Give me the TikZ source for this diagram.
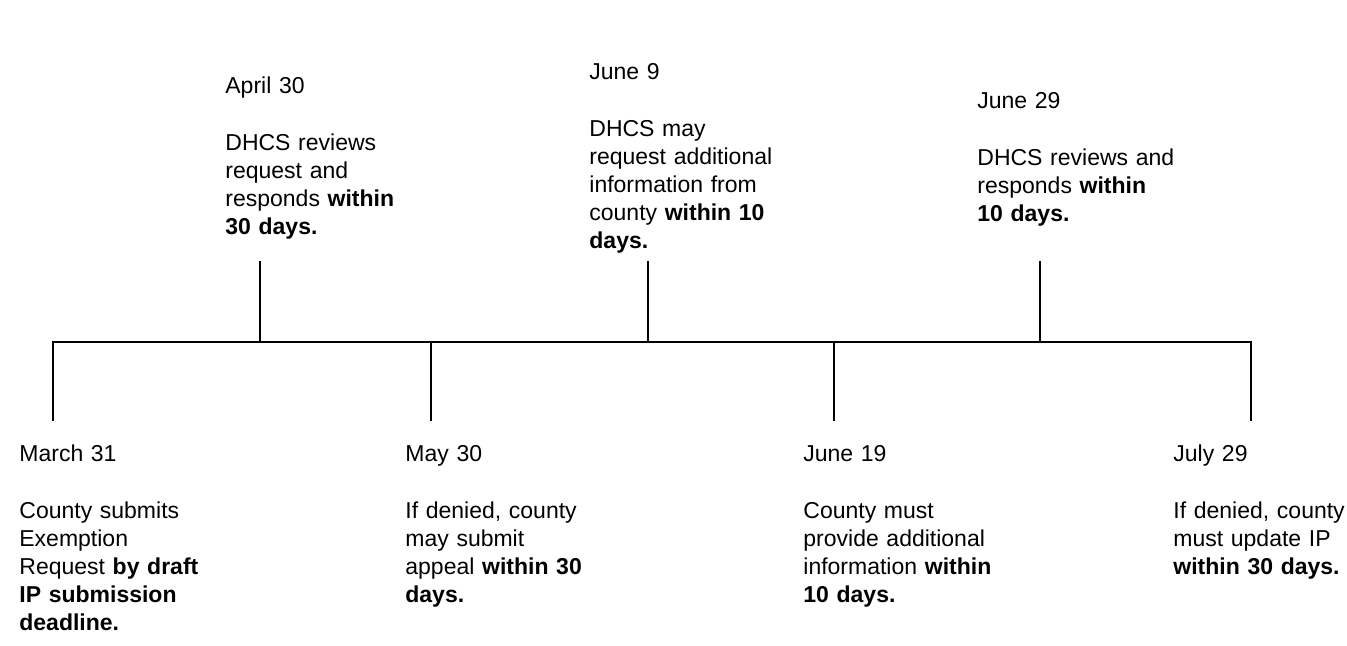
\documentclass[tikz,border=0pt]{standalone}
\usepackage{fontspec}
\setmainfont{Liberation Sans}
\begin{document}
\begin{tikzpicture}[x=0.5pt,y=-0.5pt,
    event/.style={anchor=base west,inner sep=0pt,text width=120pt,align=left,
      font=\fontsize{11.5pt}{14.1pt}\selectfont},
    axis/.style={line width=1pt,line join=miter}]
  \useasboundingbox (0,0) rectangle (1347,646);
  % points on the axis
  \coordinate (mar) at (53,342);
  \coordinate (apr) at (260,342);
  \coordinate (may) at (431,342);
  \coordinate (jun9) at (648,342);
  \coordinate (jun19) at (834,342);
  \coordinate (jun29) at (1040,342);
  \coordinate (jul) at (1251,342);
  % free ends of the ticks
  \coordinate (mar end) at (53,421);
  \coordinate (apr end) at (260,261);
  \coordinate (may end) at (431,421);
  \coordinate (jun9 end) at (648,261);
  \coordinate (jun19 end) at (834,421);
  \coordinate (jun29 end) at (1040,261);
  \coordinate (jul end) at (1251,421);
  \draw[axis] (mar end) -- (mar) -- (jul) -- (jul end);
  \draw[axis] (apr) -- (apr end);
  \draw[axis] (may) -- (may end);
  \draw[axis] (jun9) -- (jun9 end);
  \draw[axis] (jun19) -- (jun19 end);
  \draw[axis] (jun29) -- (jun29 end);
  % texts
  \node[event] (mar text) at (19,461.7) {March 31\\[14.1pt]
    County submits\\ Exemption\\ Request \textbf{by draft}\\
    \textbf{IP submission}\\ \textbf{deadline.}};
  \node[event] (apr text) at (225,93.7) {April 30\\[14.1pt]
    DHCS reviews\\ request and\\ responds \textbf{within}\\ \textbf{30 days.}};
  \node[event] (may text) at (405,461.7) {May 30\\[14.1pt]
    If denied, county\\ may submit\\ appeal \textbf{within 30}\\ \textbf{days.}};
  \node[event] (jun9 text) at (589,79.7) {June 9\\[14.1pt]
    DHCS may\\ request additional\\ information from\\ county \textbf{within 10}\\ \textbf{days.}};
  \node[event] (jun19 text) at (803,461.7) {June 19\\[14.1pt]
    County must\\ provide additional\\ information \textbf{within}\\ \textbf{10 days.}};
  \node[event] (jun29 text) at (977,108.7) {June 29\\[14.1pt]
    DHCS reviews and\\ responds \textbf{within}\\ \textbf{10 days.}};
  \node[event] (jul text) at (1173,461.7) {July 29\\[14.1pt]
    If denied, county\\ must update IP\\ \textbf{within 30 days.}};
\end{tikzpicture}
\end{document}
